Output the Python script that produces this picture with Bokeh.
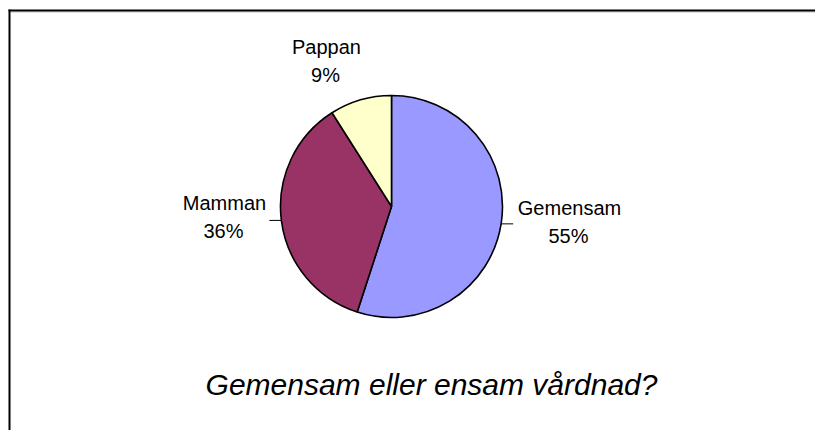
import math
from bokeh.plotting import figure
from bokeh.models import Range1d
from bokeh.core.properties import value
from bokeh.embed import file_html
from bokeh.resources import INLINE

# ---- data ----
categories = ["Gemensam", "Mamman", "Pappan"]
shares = [55, 36, 9]
colors = ["#9999FF", "#993366", "#FFFFCC"]
title_text = "Gemensam eller ensam vårdnad?"

# ---- layout (pixels) ----
W, H = 815, 430
cx, cy, R = 391, 224, 111
label_dx = [178, -167, -65]
label_dy = [-15, -10, 146]
leader = [True, True, False]
FONT = "Liberation Sans"

p = figure(width=W, height=H, output_backend="svg", toolbar_location=None,
           x_range=Range1d(0, W), y_range=Range1d(0, H), min_border=0)
p.axis.visible = False
p.grid.visible = False
p.outline_line_color = None
p.background_fill_color = "white"
p.border_fill_color = "white"

total = sum(shares)
start = math.pi / 2
starts, ends, mids = [], [], []
for v in shares:
    a = 2 * math.pi * v / total
    starts.append(start)
    ends.append(start - a)
    mids.append(start - a / 2)
    start -= a

p.wedge(x=[cx] * 3, y=[cy] * 3, radius=R, start_angle=starts, end_angle=ends,
        direction="clock", fill_color=colors, line_color="black", line_width=1.6)

names_x, names_y, pct_x, pct_y, pct_txt = [], [], [], [], []
for i, c in enumerate(categories):
    lx, ly = cx + label_dx[i], cy + label_dy[i]
    names_x.append(lx); names_y.append(ly + 14)
    pct_x.append(lx - 1); pct_y.append(ly - 14)
    pct_txt.append(f"{shares[i]}%")

p.text(x=names_x, y=names_y, text=categories, text_font=value(FONT),
       text_font_size="20px", text_align="center", text_baseline="middle", text_color="black")
p.text(x=pct_x, y=pct_y, text=pct_txt, text_font=value(FONT),
       text_font_size="20px", text_align="center", text_baseline="middle", text_color="black")

x0s, y0s, x1s, y1s = [], [], [], []
for i, m in enumerate(mids):
    if not leader[i]:
        continue
    x0 = cx + R * math.cos(m)
    y0 = cy + R * math.sin(m)
    sgn = 1 if math.cos(m) > 0 else -1
    x0s.append(x0); y0s.append(y0); x1s.append(x0 + sgn * 12); y1s.append(y0)
p.segment(x0=x0s, y0=y0s, x1=x1s, y1=y1s, line_color="black", line_width=1)

p.text(x=[431], y=[46], text=[title_text], text_font=value(FONT), text_font_style="italic",
       text_font_size="30px", text_align="center", text_baseline="middle", text_color="black")

# chart frame (left and top edges visible)
fx, fy = 9, H - 10
p.segment(x0=[fx + 1, fx], y0=[fy - 1.5, fy + 1], x1=[W, fx], y1=[fy - 1.5, 0],
          line_color=["#c0c0c0", "black"], line_width=[1, 2])
p.segment(x0=[fx - 1], y0=[fy], x1=[W], y1=[fy], line_color="black", line_width=2)

open("out.html", "w").write(file_html(p, INLINE))
